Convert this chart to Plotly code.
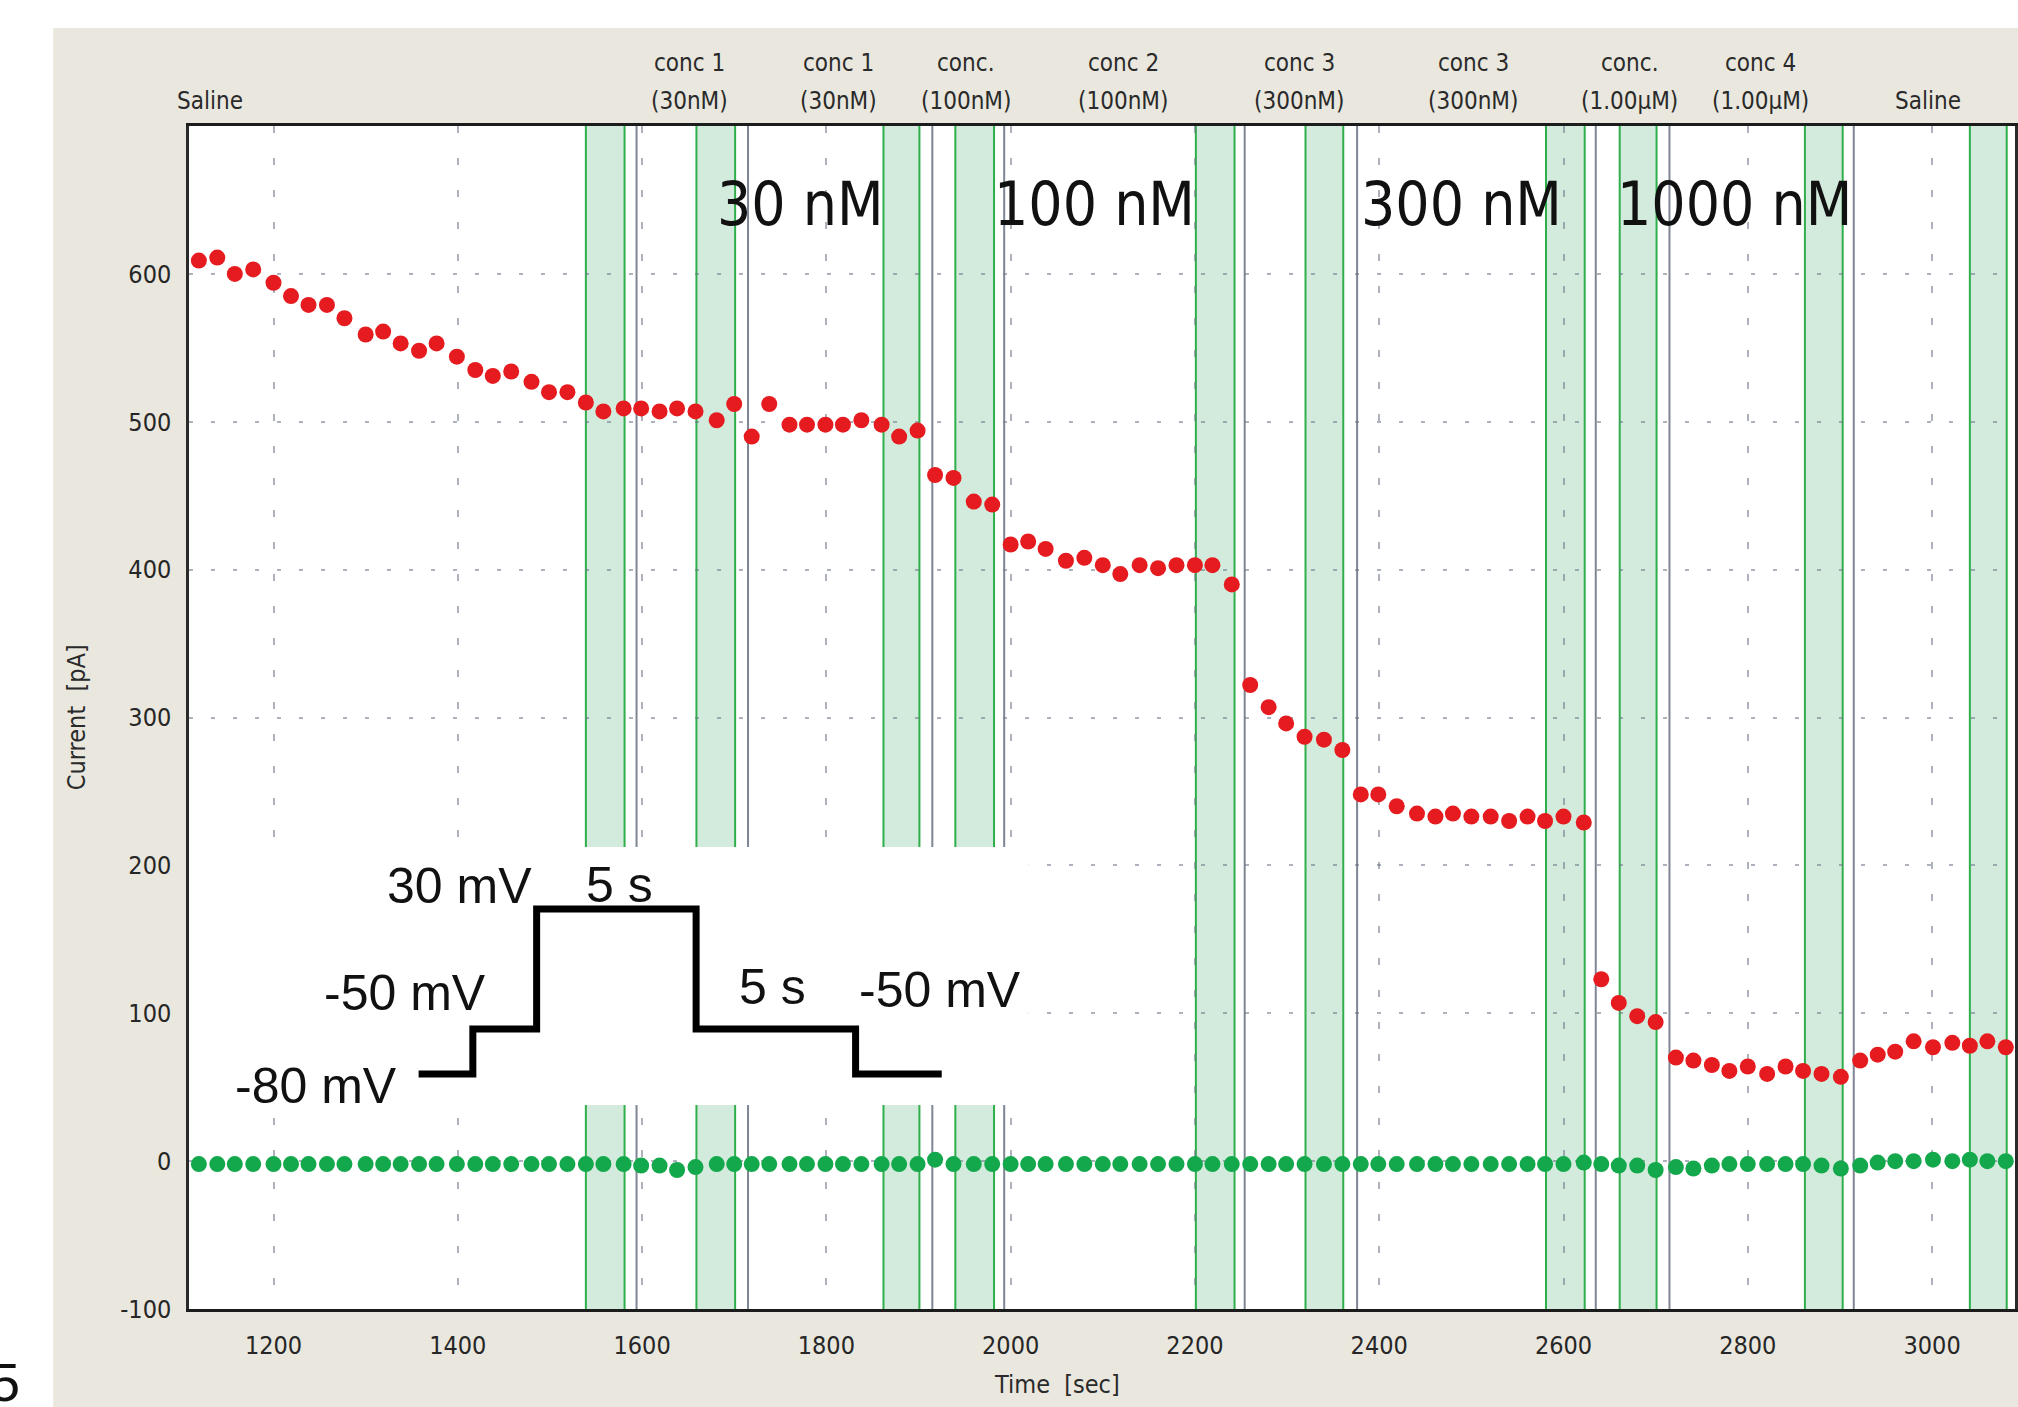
import plotly.graph_objects as go

# ---------------- data ----------------
times = [1119, 1139, 1158, 1178, 1200, 1219, 1238, 1258, 1277, 1300,
         1319, 1338, 1358, 1377, 1399, 1419, 1438, 1458, 1480, 1499,
         1519, 1539, 1558, 1580, 1599, 1619, 1638, 1658, 1681, 1700,
         1719, 1738, 1760, 1779, 1799, 1818, 1838, 1860, 1879, 1899,
         1918, 1938, 1960, 1980, 2000, 2019, 2038, 2060, 2080, 2100,
         2119, 2140, 2160, 2180, 2200, 2219, 2240, 2260, 2280, 2299,
         2319, 2340, 2360, 2380, 2399, 2419, 2441, 2461, 2480, 2500,
         2521, 2541, 2561, 2580, 2600, 2622, 2641, 2660, 2680, 2700,
         2722, 2741, 2761, 2780, 2800, 2821, 2841, 2860, 2880, 2901,
         2922, 2941, 2960, 2980, 3001, 3022, 3041, 3060, 3080]

current_red = [609, 611, 600, 603, 594, 585, 579, 579, 570, 559,
               561, 553, 548, 553, 544, 535, 531, 534, 527, 520,
               520, 513, 507, 509, 509, 507, 509, 507, 501, 512,
               490, 512, 498, 498, 498, 498, 501, 498, 490, 494,
               464, 462, 446, 444, 417, 419, 414, 406, 408, 403,
               397, 403, 401, 403, 403, 403, 390, 322, 307, 296,
               287, 285, 278, 248, 248, 240, 235, 233, 235, 233,
               233, 230, 233, 230, 233, 229, 123, 107, 98, 94,
               70, 68, 65, 61, 64, 59, 64, 61, 59, 57,
               68, 72, 74, 81, 77, 80, 78, 81, 77]

current_green = [-2, -2, -2, -2, -2, -2, -2, -2, -2, -2,
                 -2, -2, -2, -2, -2, -2, -2, -2, -2, -2,
                 -2, -2, -2, -2, -3, -3, -6, -4, -2, -2,
                 -2, -2, -2, -2, -2, -2, -2, -2, -2, -2,
                 1, -2, -2, -2, -2, -2, -2, -2, -2, -2,
                 -2, -2, -2, -2, -2, -2, -2, -2, -2, -2,
                 -2, -2, -2, -2, -2, -2, -2, -2, -2, -2,
                 -2, -2, -2, -2, -2, -1, -2, -3, -3, -6,
                 -4, -5, -3, -2, -2, -2, -2, -2, -3, -5,
                 -3, -1, 0, 0, 1, 0, 1, 0, 0]

band_start = [1539, 1659, 1862, 1940, 2201, 2320, 2581, 2661, 2862, 3041]
band_end = [1581, 1701, 1901, 1982, 2243, 2361, 2623, 2701, 2903, 3081]
event_lines = [1594, 1715, 1915, 1993, 2254, 2376, 2635, 2715, 2915]

event_line1 = ["", "conc 1", "conc 1", "conc.", "conc 2", "conc 3", "conc 3",
               "conc.", "conc 4", ""]
event_line2 = ["Saline", "(30nM)", "(30nM)", "(100nM)", "(100nM)", "(300nM)", "(300nM)",
               "(1.00µM)", "(1.00µM)", "Saline"]
event_label_x = [1131, 1652, 1813, 1952, 2122, 2313, 2502, 2672, 2814, 2996]

conc_labels = ["30 nM", "100 nM", "300 nM", "1000 nM"]
conc_label_x = [1772, 2091, 2489, 2786]

x_ticks = [1200, 1400, 1600, 1800, 2000, 2200, 2400, 2600, 2800, 3000]
y_ticks = [-100, 0, 100, 200, 300, 400, 500, 600]

# voltage protocol (inset)
proto_t = [0, 1.7, 3.7, 8.7, 13.7, 16.4]
proto_v = [-80, -50, 30, -50, -80, -80]

# ---------------- styling ----------------
NARROW = "Liberation Sans Narrow, Arial Narrow, DejaVu Sans Condensed, Liberation Sans, sans-serif"
ARIAL = "Liberation Sans, Arial, Helvetica, sans-serif"
BEIGE = "#E9E7DE"

W, H = 2018, 1407
L, R, T, B = 189, 0, 126, 98
PW, PH = W - L - R, H - T - B


def px2paper_x(px):
    return (px - L) / PW


def py2paper_y(py):
    return (H - B - py) / PH


fig = go.Figure()

fig.add_trace(go.Scatter(x=times, y=current_green, mode="markers",
                         marker=dict(color="#14A84C", size=16),
                         showlegend=False, hoverinfo="skip"))
fig.add_trace(go.Scatter(x=times, y=current_red, mode="markers",
                         marker=dict(color="#E51B1F", size=16),
                         showlegend=False, hoverinfo="skip"))

# inset protocol trace
fig.add_trace(go.Scatter(x=proto_t, y=proto_v, mode="lines", line_shape="hv",
                         line=dict(color="black", width=7),
                         xaxis="x2", yaxis="y2", showlegend=False, hoverinfo="skip"))

X2_RANGE = [-7.199, 19.124]
Y2_RANGE = [-100.7, 71.3]

shapes = []
# white strips outside the beige panel
shapes.append(dict(type="rect", xref="paper", yref="paper",
                   x0=px2paper_x(-20), x1=px2paper_x(53), y0=py2paper_y(H + 20), y1=py2paper_y(-20),
                   fillcolor="white", line=dict(width=0), layer="below"))
shapes.append(dict(type="rect", xref="paper", yref="paper",
                   x0=px2paper_x(-20), x1=px2paper_x(W + 20), y0=py2paper_y(28), y1=py2paper_y(-20),
                   fillcolor="white", line=dict(width=0), layer="below"))

for s, e in zip(band_start, band_end):
    shapes.append(dict(type="rect", xref="x", yref="y", x0=s, x1=e, y0=-100, y1=700,
                       fillcolor="#D3EBDC", line=dict(width=0), layer="below"))
    for xv in (s, e):
        shapes.append(dict(type="line", xref="x", yref="y", x0=xv, x1=xv, y0=-100, y1=700,
                           line=dict(color="#2FAF4B", width=2), layer="below"))
for xv in event_lines:
    shapes.append(dict(type="line", xref="x", yref="y", x0=xv, x1=xv, y0=-100, y1=700,
                       line=dict(color="#7E8593", width=2), layer="below"))

# inset white background box (drawn in the inset subplot, above the main grid)
shapes.append(dict(type="rect", xref="x2", yref="y2",
                   x0=X2_RANGE[0] + 0.12, x1=X2_RANGE[1], y0=Y2_RANGE[0], y1=Y2_RANGE[1],
                   fillcolor="white", line=dict(width=0), layer="below"))

annotations = []
for l1, l2, xv in zip(event_line1, event_line2, event_label_x):
    if l1:
        annotations.append(dict(x=xv, xref="x", y=py2paper_y(63), yref="paper",
                                text=l1, showarrow=False, xanchor="center", yanchor="middle",
                                font=dict(family=NARROW, size=24, color="#2A2A2A")))
    annotations.append(dict(x=xv, xref="x", y=py2paper_y(101), yref="paper",
                            text=l2, showarrow=False, xanchor="center", yanchor="middle",
                            font=dict(family=NARROW, size=24, color="#2A2A2A")))

for lab, xv in zip(conc_labels, conc_label_x):
    annotations.append(dict(x=xv, xref="x", y=647, yref="y", text=lab, showarrow=False,
                            xanchor="center", yanchor="middle",
                            font=dict(family=NARROW, size=60, color="#111111")))

# inset texts
inset_texts = [("30 mV", 1.27, 45), ("5 s", 6.29, 46), ("-50 mV", -0.42, -26),
               ("5 s", 11.08, -22), ("-50 mV", 16.34, -24), ("-80 mV", -3.21, -88)]
for txt, xv, yv in inset_texts:
    annotations.append(dict(x=xv, xref="x2", y=yv, yref="y2", text=txt, showarrow=False,
                            xanchor="center", yanchor="middle",
                            font=dict(family=ARIAL, size=50, color="#111111")))

# axis titles
annotations.append(dict(x=px2paper_x(77), xref="paper", y=py2paper_y(717), yref="paper",
                        text="Current\u00a0\u00a0[pA]", textangle=-90, showarrow=False,
                        xanchor="center", yanchor="middle",
                        font=dict(family=NARROW, size=25, color="#2A2A2A")))
annotations.append(dict(x=px2paper_x(1058), xref="paper", y=py2paper_y(1384), yref="paper",
                        text="Time\u00a0\u00a0[sec]", showarrow=False,
                        xanchor="center", yanchor="middle",
                        font=dict(family=NARROW, size=25, color="#2A2A2A")))
# panel number (cut at left edge)
annotations.append(dict(x=px2paper_x(22), xref="paper", y=py2paper_y(1382), yref="paper",
                        text="5", showarrow=False, xanchor="right", yanchor="middle",
                        font=dict(family=ARIAL, size=54, color="#111111")))

fig.update_layout(
    width=W, height=H, autosize=False,
    margin=dict(l=L, r=R, t=T, b=B, pad=0),
    paper_bgcolor=BEIGE, plot_bgcolor="white",
    shapes=shapes, annotations=annotations,
    xaxis=dict(range=[1108.3, 3090], tickvals=x_ticks, ticktext=[str(v) for v in x_ticks],
               showgrid=True, gridcolor="rgba(105,115,135,0.55)", gridwidth=1.5, griddash="7px,25px",
               zeroline=False, showline=True, linecolor="#1C1C1C", linewidth=3, mirror=True,
               ticks="outside", ticklen=12, tickcolor="rgba(0,0,0,0)",
               tickfont=dict(family=NARROW, size=25, color="#262626")),
    yaxis=dict(range=[-100, 700], tickvals=y_ticks, ticktext=[str(v) for v in y_ticks],
               showgrid=True, gridcolor="rgba(105,115,135,0.55)", gridwidth=1.5, griddash="4px,18px",
               zeroline=False, showline=True, linecolor="#2A2A2A", linewidth=2.5, mirror=True,
               ticks="outside", ticklen=10, tickcolor="rgba(0,0,0,0)",
               tickfont=dict(family=NARROW, size=25, color="#262626")),
    xaxis2=dict(domain=[0.0, 0.4598], range=X2_RANGE, anchor="y2",
                showgrid=False, zeroline=False, showticklabels=False, showline=False, ticks=""),
    yaxis2=dict(domain=[0.1724, 0.3905], range=Y2_RANGE, anchor="x2",
                showgrid=False, zeroline=False, showticklabels=False, showline=False, ticks=""),
)

fig.write_html("out.html", config={"displayModeBar": False},
               post_script="document.body.style.margin='0';document.body.style.overflow='hidden';")
